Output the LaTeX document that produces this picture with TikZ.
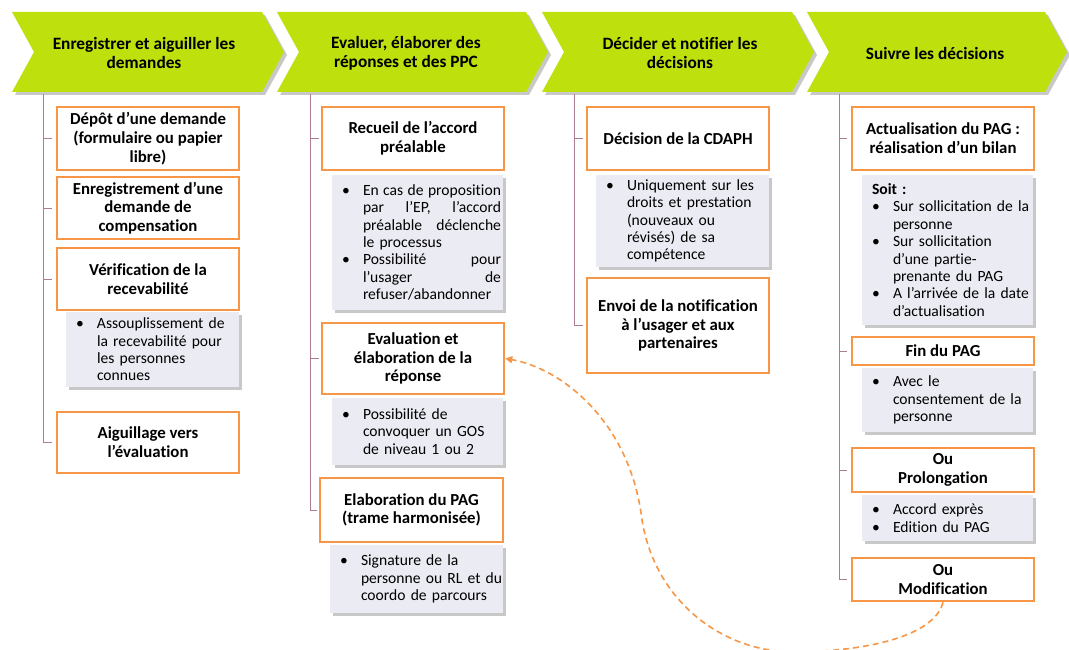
\documentclass[tikz,border=0pt]{standalone}
\usepackage{fontspec}
\setmainfont{Carlito}[Ligatures=NoCommon]
\usetikzlibrary{arrows.meta,shadows,calc}
\definecolor{lime}{RGB}{190,224,12}
\definecolor{borange}{RGB}{247,150,70}
\definecolor{gfill}{RGB}{235,235,243}
\definecolor{vline}{RGB}{170,125,148}
\newcommand{\bi}[1]{\makebox[21pt][l]{\textbullet}\mbox{#1}}
\newcommand{\ci}[1]{\hspace*{21pt}\mbox{#1}}
\newcommand{\jl}[1]{\makebox[138pt][l]{#1}}
\begin{document}
\begin{tikzpicture}[x=1pt,y=-1pt,
  obox/.style={draw=borange, line width=2.5pt, fill=white, align=center,
    font=\fontsize{16.8}{18.7}\selectfont\bfseries, inner sep=0pt, minimum width=182pt},
  gbox/.style={fill=gfill, drop shadow={shadow xshift=2.5pt, shadow yshift=-3pt, opacity=0.3, fill=black!70},
    align=left, font=\fontsize{15.6}{17.4}\selectfont, inner xsep=10pt, inner ysep=0pt},
  chev/.style={fill=lime, drop shadow={shadow xshift=3pt, shadow yshift=-3pt, opacity=0.3, fill=black!70}},
  htext/.style={font=\fontsize{17.3}{19}\selectfont\bfseries, align=center},
  stem/.style={draw=vline, line width=0.8pt},
  link/.style={draw=borange, line width=1.6pt, dash pattern=on 6pt off 4pt, -{Triangle[length=7pt,width=7pt]}}
]
\useasboundingbox[fill=white] (0,0) rectangle (1069,650);

% chevrons
\fill[chev] (12,12) -- (262,12) -- (284,52) -- (262,92) -- (12,92) -- (34,52) -- cycle;
\fill[chev] (277,12) -- (526,12) -- (548,52) -- (526,92) -- (277,92) -- (299,52) -- cycle;
\fill[chev] (542,12) -- (792,12) -- (814,52) -- (792,92) -- (542,92) -- (564,52) -- cycle;
\fill[chev] (807,12) -- (1045,12) -- (1067,52) -- (1045,92) -- (807,92) -- (829,52) -- cycle;
\node[htext] (h1) at (144,53) {Enregistrer et aiguiller les\\demandes};
\node[htext] (h2) at (406,53) {Evaluer, élaborer des\\réponses et des PPC};
\node[htext] (h3) at (680,53) {Décider et notifier les\\décisions};
\node[htext] (h4) at (935,53) {Suivre les décisions};

% column 1
\node[obox, minimum height=63pt] (b11) at (148,138.5) {Dépôt d’une demande\\(formulaire ou papier\\libre)};
\node[obox, minimum height=62pt] (b12) at (148,208) {Enregistrement d’une\\demande de\\compensation};
\node[obox, minimum height=62pt] (b13) at (148,279) {Vérification de la\\recevabilité};
\node[gbox, text width=153pt, minimum height=75pt] (g11) at (152.5,349.5)
  {\bi{Assouplissement de}\\\ci{la recevabilité pour}\\\ci{les personnes}\\\ci{connues}};
\node[obox, minimum height=61pt] (b14) at (148,442.5) {Aiguillage vers\\l’évaluation};

% column 2
\node[obox, minimum height=63pt] (b21) at (413,138.5) {Recueil de l’accord\\préalable};
\node[gbox, text width=151pt, minimum height=135pt] (g21) at (417.5,242.5)
  {\bi{\jl{En\hfill cas\hfill de\hfill proposition}}\\\ci{\jl{par\hfill l’EP,\hfill l’accord}}\\\ci{\jl{préalable\hfill déclenche}}\\\ci{le processus}\\
   \bi{\jl{Possibilité\hfill pour}}\\\ci{\jl{l’usager\hfill de}}\\\ci{refuser/abandonner}};
\node[obox, minimum height=71pt] (b22) at (413,358.5) {Evaluation et\\élaboration de la\\réponse};
\node[gbox, text width=151pt, minimum height=67pt] (g22) at (417.5,431.5)
  {\bi{Possibilité de}\\\ci{convoquer un GOS}\\\ci{de niveau 1 ou 2}};
\node[obox, minimum width=183pt, minimum height=64pt] (b23) at (411.5,510) {Elaboration du PAG\\(trame harmonisée)};
\node[gbox, text width=153pt, minimum height=68pt] (g23) at (416.5,579)
  {\bi{Signature de la}\\\ci{personne ou RL et du}\\\ci{coordo de parcours}};

% column 3
\node[obox, minimum height=63pt] (b31) at (678,138.5) {Décision de la CDAPH};
\node[gbox, text width=153pt, minimum height=92pt] (g31) at (682.5,221)
  {\bi{Uniquement sur les}\\\ci{droits et prestation}\\\ci{(nouveaux ou}\\\ci{révisés) de sa}\\\ci{compétence}};
\node[obox, minimum height=95pt] (b32) at (678,325.5) {Envoi de la notification\\à l’usager et aux\\partenaires};

% column 4
\node[obox, minimum height=63pt] (b41) at (943,138.5) {Actualisation du PAG :\\réalisation d’un bilan};
\node[gbox, text width=151pt, minimum height=150pt] (g41) at (947.5,250)
  {\mbox{\bfseries Soit :}\\\bi{Sur sollicitation de la}\\\ci{personne}\\\bi{Sur sollicitation}\\\ci{d’une partie-}\\\ci{prenante du PAG}\\\bi{A l’arrivée de la date}\\\ci{d’actualisation}};
\node[obox, minimum height=28pt] (b42) at (943,351) {Fin du PAG};
\node[gbox, text width=151pt, minimum height=64pt] (g42) at (947.5,400)
  {\bi{Avec le}\\\ci{consentement de la}\\\ci{personne}};
\node[obox, minimum height=44pt] (b43) at (943,470) {Ou\\Prolongation};
\node[gbox, text width=151pt, minimum height=46pt] (g43) at (947.5,518)
  {\bi{Accord exprès}\\\bi{Edition du PAG}};
\node[obox, minimum height=43pt] (b44) at (943,579.5) {Ou\\Modification};

% stems
\coordinate (v1) at (43,94);
\coordinate (v2) at (310,94);
\coordinate (v3) at (574,94);
\coordinate (v4) at (839,94);
\draw[stem] (v1) |- ([xshift=-4pt]b14.west);
\foreach \b in {b11,b12,b13} \draw[stem] (v1 |- \b.west) -- ([xshift=-4pt]\b.west);
\draw[stem] (v2) |- ([xshift=-2pt]b23.west);
\foreach \b in {b21,b22} \draw[stem] (v2 |- \b.west) -- ([xshift=-2pt]\b.west);
\draw[stem] (v3) |- ([xshift=-3pt]b32.west);
\draw[stem] (v3 |- b31.west) -- ([xshift=-3pt]b31.west);
\draw[stem] (v4) |- ([xshift=-4pt]b44.west);
\foreach \b in {b41,b42,b43} \draw[stem] (v4 |- \b.west) -- ([xshift=-4pt]\b.west);

% dashed link
\draw[link] (b44.south) .. controls (935,635) and (870,652) .. (790,652)
  .. controls (720,650) and (655,600) .. (642,520)
  .. controls (630,420) and (560,368) .. (b22.east);
\end{tikzpicture}
\end{document}
